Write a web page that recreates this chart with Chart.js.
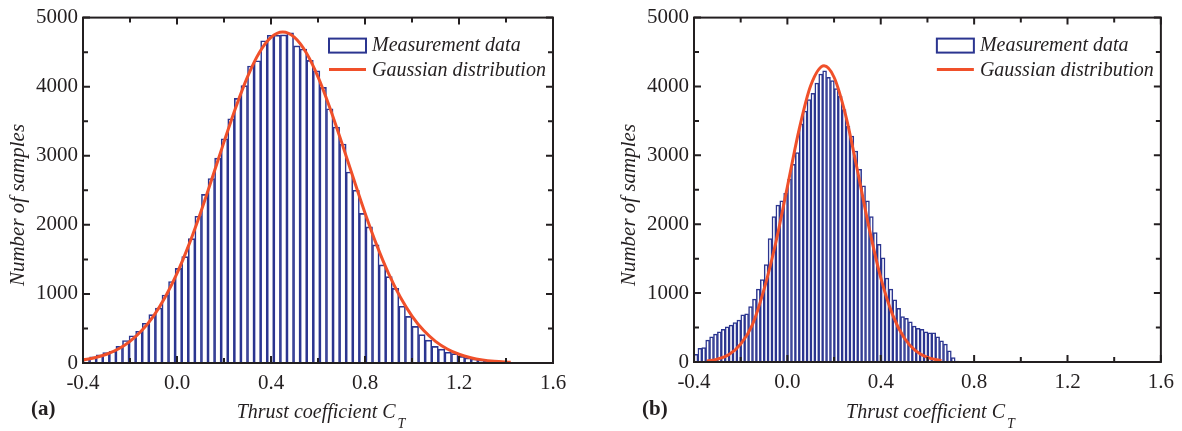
<!DOCTYPE html>
<html>
<head>
<meta charset="utf-8">
<script src="https://cdn.jsdelivr.net/npm/chart.js@4.4.1/dist/chart.umd.min.js"></script>
<style>
  html, body { margin: 0; padding: 0; background: #fff; }
  #wrap { position: relative; width: 1182px; height: 431px; }
  canvas { position: absolute; top: 0; }
</style>
</head>
<body>
<div id="wrap">
  <canvas id="chart-a" width="591" height="431" style="left:0"></canvas>
  <canvas id="chart-b" width="591" height="431" style="left:591px"></canvas>
</div>
<script>
// axis ticks
const xTickValues = [-0.4, 0, 0.4, 0.8, 1.2, 1.6];
const xTickLabels = ['-0.4', '0.0', '0.4', '0.8', '1.2', '1.6'];
const xMinorTicks = [-0.2, 0.2, 0.6, 1.0, 1.4];
const yTickValues = [0, 1000, 2000, 3000, 4000, 5000];
const yTickLabels = ['0', '1000', '2000', '3000', '4000', '5000'];
const yMinorTicks = [500, 1500, 2500, 3500, 4500];

// (a) histogram: bins start at -0.4, width 0.028
const binStartA = -0.4;
const binWidthA = 0.028;
const countsA = [62, 90, 120, 150, 170, 240, 325, 395, 460, 575,
  700, 795, 985, 1180, 1370, 1540, 1800, 2125, 2440, 2670,
  2965, 3245, 3535, 3830, 4015, 4300, 4375, 4665, 4745, 4745,
  4750, 4780, 4590, 4545, 4380, 4230, 3990, 3680, 3415, 3170,
  2765, 2500, 2165, 1970, 1710, 1420, 1250, 1080, 820, 675,
  530, 410, 330, 240, 200, 155, 135, 95, 72, 58,
  42, 30, 20, 12, 8];
const gaussXA = [-0.4, -0.35, -0.3, -0.25, -0.2, -0.15, -0.1, -0.05, 0, 0.05, 0.1, 0.15, 0.2,
  0.25, 0.3, 0.35, 0.4, 0.45, 0.5, 0.55, 0.6, 0.65, 0.7, 0.75, 0.8, 0.85, 0.9, 0.95, 1.0,
  1.05, 1.1, 1.15, 1.2, 1.25, 1.3, 1.35, 1.42];
const gaussYA = [45, 77, 127, 203, 314, 469, 680, 955, 1297, 1706, 2173, 2681, 3201,
  3700, 4143, 4491, 4713, 4790, 4713, 4491, 4143, 3700, 3201, 2681, 2173, 1706, 1297, 955, 680,
  469, 314, 203, 127, 77, 45, 26, 11];

// (b) histogram: bins start at -0.4, width 0.0167
const binStartB = -0.4;
const binWidthB = 0.0167;
const countsB = [112, 200, 210, 317, 366, 405, 439, 473, 512, 537,
  571, 610, 683, 698, 805, 912, 1058, 1195, 1415, 1790,
  2112, 2278, 2341, 2447, 2654, 2870, 3039, 3457, 3642, 3810,
  3900, 4051, 4181, 4229, 4133, 4085, 3969, 3858, 3665, 3423,
  3279, 3063, 2798, 2558, 2341, 2112, 1878, 1707, 1512, 1220,
  1058, 902, 780, 658, 634, 585, 522, 488, 473, 439,
  424, 424, 366, 307, 259, 161, 63, 15];
const gaussXB = [-0.345, -0.3, -0.25, -0.2, -0.15, -0.1, -0.05, 0, 0.05, 0.1, 0.157,
  0.2, 0.25, 0.3, 0.35, 0.4, 0.45, 0.5, 0.55, 0.6, 0.66];
const gaussYB = [15, 42, 110, 260, 540, 1055, 1728, 2545, 3370, 4013, 4300,
  4134, 3577, 2783, 1947, 1224, 692, 352, 161, 66, 20];

const barColor = '#2b3590';
const fitColor = '#f0502a';
const inkColor = '#231f20';
const serif = '"Liberation Serif", "Times New Roman", serif';

Chart.defaults.font.family = serif;
Chart.defaults.color = inkColor;

// frame, inward ticks, legend and labels
const decoPlugin = {
  id: 'deco',
  afterDraw(chart, args, opts) {
    const ctx = chart.ctx;
    const a = chart.chartArea;
    const xs = chart.scales.x, ys = chart.scales.y;
    ctx.save();
    ctx.strokeStyle = inkColor;
    ctx.lineWidth = 2;
    ctx.beginPath();
    const xTick = (v, len) => {
      const px = xs.getPixelForValue(v);
      ctx.moveTo(px, a.bottom); ctx.lineTo(px, a.bottom - len);
      ctx.moveTo(px, a.top); ctx.lineTo(px, a.top + len);
    };
    const yTick = (v, len) => {
      const py = ys.getPixelForValue(v);
      ctx.moveTo(a.left, py); ctx.lineTo(a.left + len, py);
      ctx.moveTo(a.right, py); ctx.lineTo(a.right - len, py);
    };
    xTickValues.forEach(v => xTick(v, 7));
    xMinorTicks.forEach(v => xTick(v, 5));
    yTickValues.forEach(v => yTick(v, 7));
    yMinorTicks.forEach(v => yTick(v, 5));
    ctx.stroke();
    ctx.strokeRect(a.left, a.top, a.right - a.left, a.bottom - a.top);

    // legend
    const ds = chart.data.datasets;
    const bx = a.right - 224, by = a.top + 21;
    ctx.strokeStyle = barColor;
    ctx.lineWidth = 2;
    ctx.strokeRect(bx, by, 37, 14);
    ctx.strokeStyle = fitColor;
    ctx.lineWidth = 3;
    ctx.beginPath();
    ctx.moveTo(bx, by + 31); ctx.lineTo(bx + 37, by + 31);
    ctx.stroke();
    ctx.fillStyle = inkColor;
    ctx.font = 'italic 20px ' + serif;
    ctx.textBaseline = 'middle';
    ctx.textAlign = 'left';
    ctx.fillText(ds[0].label, bx + 43, by + 7);
    ctx.fillText(ds[1].label, bx + 43, by + 32);

    // y title
    ctx.save();
    ctx.translate(a.left - 65, 205);
    ctx.rotate(-Math.PI / 2);
    ctx.textAlign = 'center';
    ctx.font = 'italic 21px ' + serif;
    ctx.fillText('Number of samples', 0, 0);
    ctx.restore();

    // x title with subscript
    ctx.textBaseline = 'alphabetic';
    ctx.font = 'italic 20px ' + serif;
    const main = 'Thrust coefficient C';
    const w = ctx.measureText(main).width;
    ctx.font = 'italic 14px ' + serif;
    const ws = ctx.measureText('T').width;
    const x0 = (a.left + a.right) / 2 + 3 - (w + ws + 2) / 2;
    ctx.font = 'italic 20px ' + serif;
    ctx.fillText(main, x0, 418);
    ctx.font = 'italic 14px ' + serif;
    ctx.fillText('T', x0 + w + 2, 428);

    // panel label
    ctx.font = 'bold 21px ' + serif;
    ctx.fillText(opts.panel, a.left - 52, 415);
    ctx.restore();
  }
};

function makeChart(id, panel, counts, binStart, binWidth, gx, gy, box) {
  const bars = counts.map((v, i) => ({ x: binStart + binWidth * (i + 0.5), y: v }));
  const fit = gx.map((x, i) => ({ x: x, y: gy[i] }));
  return new Chart(document.getElementById(id), {
    type: 'bar',
    data: {
      datasets: [{
        type: 'bar',
        label: 'Measurement data',
        data: bars,
        backgroundColor: '#ffffff',
        borderColor: barColor,
        borderWidth: box.barLine,
        categoryPercentage: 1,
        barPercentage: 1,
        order: 2
      }, {
        type: 'line',
        label: 'Gaussian distribution',
        data: fit,
        borderColor: fitColor,
        borderWidth: 3,
        pointRadius: 0,
        fill: false,
        cubicInterpolationMode: 'monotone',
        order: 1
      }]
    },
    options: {
      responsive: false,
      devicePixelRatio: 1,
      animation: false,
      layout: { padding: { left: 0, right: box.padRight, top: box.padTop, bottom: 0 } },
      plugins: {
        legend: { display: false },
        tooltip: { enabled: false },
        deco: { panel: panel }
      },
      scales: {
        x: {
          type: 'linear',
          min: -0.4,
          max: 1.6,
          offset: false,
          grid: { display: false, drawTicks: false },
          border: { display: false },
          afterBuildTicks: s => { s.ticks = xTickValues.map(v => ({ value: v })); },
          afterFit: s => { s.height = box.xHeight; },
          ticks: {
            autoSkip: false,
            maxRotation: 0,
            padding: 8,
            color: inkColor,
            font: { size: 21 },
            callback: (v, i) => xTickLabels[i]
          }
        },
        y: {
          min: 0,
          max: 5000,
          grid: { display: false, drawTicks: false },
          border: { display: false },
          afterBuildTicks: s => { s.ticks = yTickValues.map(v => ({ value: v })); },
          afterFit: s => { s.width = box.yWidth; },
          ticks: {
            autoSkip: false,
            padding: 5,
            color: inkColor,
            font: { size: 21 },
            callback: (v, i) => yTickLabels[i]
          }
        }
      }
    },
    plugins: [decoPlugin]
  });
}

makeChart('chart-a', '(a)', countsA, binStartA, binWidthA, gaussXA, gaussYA,
  { yWidth: 83, padRight: 38, padTop: 17, xHeight: 68, barLine: 1.6 });
makeChart('chart-b', '(b)', countsB, binStartB, binWidthB, gaussXB, gaussYB,
  { yWidth: 103, padRight: 19, padTop: 16, xHeight: 69, barLine: 1.5 });
</script>
</body>
</html>
